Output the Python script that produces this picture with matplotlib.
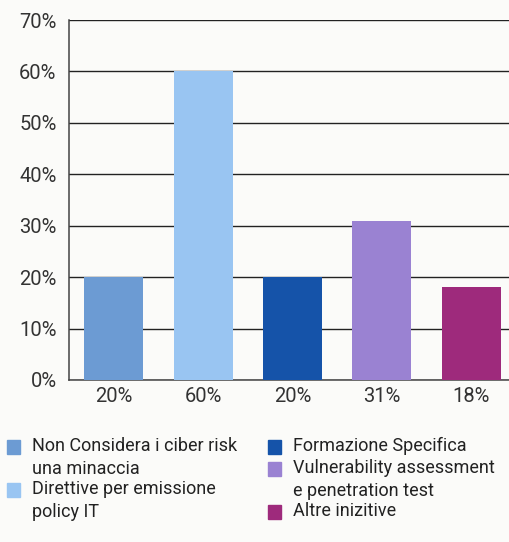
import matplotlib
matplotlib.use('Agg')
import matplotlib.pyplot as plt
from matplotlib.patches import Rectangle

plt.rcParams['font.family'] = ['Roboto', 'DejaVu Sans']

categories = ['Non Considera i ciber risk\nuna minaccia',
              'Direttive per emissione\npolicy IT',
              'Formazione Specifica',
              'Vulnerability assessment\ne penetration test',
              'Altre inizitive']
values = [20, 60, 20, 31, 18]
value_labels = ['20%', '60%', '20%', '31%', '18%']
colors = ['#6c9bd3', '#99c5f2', '#1553a9', '#9a82d2', '#9e2a7c']
y_ticks = [0, 10, 20, 30, 40, 50, 60, 70]

fig = plt.figure(figsize=(5.09, 5.42), dpi=100)
fig.patch.set_facecolor('#fbfbf9')
ax = fig.add_axes([0.1356, 0.299, 0.878, 0.664])
ax.set_facecolor('#fbfbf9')

x = list(range(len(values)))
ax.bar(x, values, width=0.66, color=colors, zorder=3)
ax.set_xlim(-0.5, 4.5)
ax.set_ylim(0, 70)
ax.set_yticks(y_ticks)
ax.set_yticklabels([f'{t}%' for t in y_ticks])
ax.set_xticks(x)
ax.set_xticklabels(value_labels)
ax.yaxis.grid(True, color='#222222', linewidth=1.0, zorder=0)
ax.set_axisbelow(True)
for s in ['top', 'right']:
    ax.spines[s].set_visible(False)
for s in ['left', 'bottom']:
    ax.spines[s].set_color('#444444')
    ax.spines[s].set_linewidth(1.1)
ax.tick_params(axis='both', length=0, labelsize=14.5, colors='#333333')
ax.tick_params(axis='y', pad=9)
ax.tick_params(axis='x', pad=5)

# legend drawn by hand: two columns
col_x = [7, 268]
row_y = [447, 490, 447, 469, 512]
col_of = [0, 0, 1, 1, 1]
W, H = 509, 542
for i, lab in enumerate(categories):
    cx = col_x[col_of[i]]
    cy = row_y[i]
    fig.patches.append(Rectangle((cx / W, 1 - (cy + 7) / H), 13 / W, 14 / H,
                                 transform=fig.transFigure, color=colors[i]))
    fig.text((cx + 25) / W, 1 - (cy - 10) / H, lab, fontsize=13, color='#222222',
             va='top', ha='left', linespacing=1.37)

plt.savefig('out.png', dpi=100, facecolor=fig.get_facecolor())
